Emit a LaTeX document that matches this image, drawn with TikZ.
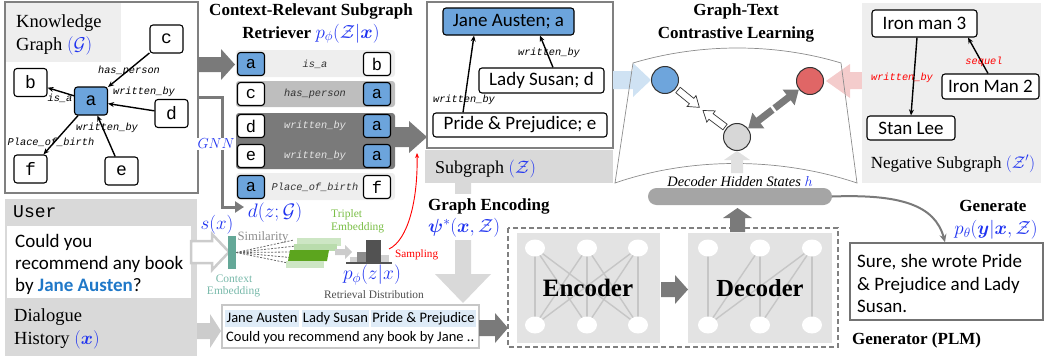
\RequirePackage{fix-cm}
\documentclass[tikz,border=0pt]{standalone}
\usepackage{amsmath}
\usepackage{bm}
\usepackage{fontspec}
\setmainfont{Liberation Serif}
\setmonofont{Liberation Mono}
\newfontfamily\calib{Carlito}
\usetikzlibrary{arrows.meta,calc}
\newcommand\fsz[1]{\fontsize{#1}{#1}\selectfont}
\definecolor{nblue}{RGB}{108,164,220}
\definecolor{mblue}{RGB}{30,50,240}
\definecolor{bgray}{RGB}{128,128,128}
\definecolor{lbg}{RGB}{238,238,238}
\definecolor{mbg}{RGB}{217,217,217}
\definecolor{rowmid}{RGB}{190,190,190}
\definecolor{dgray}{RGB}{122,122,122}
\definecolor{teal1}{RGB}{100,168,152}
\definecolor{tealtxt}{RGB}{120,185,170}
\definecolor{gdark}{RGB}{92,165,30}
\definecolor{glight}{RGB}{205,230,196}
\definecolor{glight2}{RGB}{185,220,172}
\definecolor{gtxt}{RGB}{122,190,70}
\definecolor{hl}{RGB}{222,235,247}
\definecolor{ablue}{RGB}{207,226,243}
\definecolor{ared}{RGB}{244,204,204}
\definecolor{cblue}{RGB}{110,165,220}
\definecolor{cred}{RGB}{224,102,102}
\definecolor{cgray}{RGB}{215,215,215}
\definecolor{ublue}{RGB}{31,120,200}
\definecolor{encbg}{RGB}{227,227,227}
\definecolor{eline}{RGB}{198,198,198}
\definecolor{hbgray}{RGB}{165,165,165}
\tikzset{
 txt/.style={anchor=base west, inner sep=0pt},
 ctxt/.style={anchor=base, inner sep=0pt},
 kn/.style={draw, rounded corners=3pt, line width=1.1pt, fill=white, inner sep=0pt,
   minimum width=33pt, minimum height=28pt, font=\ttfamily\fsz{18}},
 tn/.style={kn, minimum width=27pt, minimum height=23pt, font=\ttfamily\fsz{17}},
 sn/.style={draw, rounded corners=3pt, line width=1.1pt, fill=white, inner sep=0pt,
   font=\calib\fsz{19}},
 elab/.style={font=\ttfamily\itshape\fsz{10.3}, inner sep=0.5pt},
 kedge/.style={line width=1.4pt, -{Stealth[length=6pt,width=5pt]}},
 ttl/.style={anchor=base, inner sep=0pt, font=\bfseries\fsz{17}},
 eedge/.style={draw=eline, line width=1.4pt},
 dbl/.style={draw=dgray, line width=7pt, -{Triangle[length=13pt,width=19pt]}},
 warr/.style={draw=black!80, line width=0.7pt, fill=white},
 hlbox/.style={fill=hl, inner sep=0pt, minimum height=17pt, text height=10.5pt, text depth=2.5pt, font=\calib\fsz{14.5}},
}
\begin{document}
\begin{tikzpicture}[x=1pt,y=-1pt]
\useasboundingbox (0,0) rectangle (1045,356);

%% ================= Knowledge graph
\node[draw=bgray, line width=2pt, fill=white, minimum width=193pt, minimum height=191pt, inner sep=0pt] (kg) at (101.5,97.5) {};
\fill[lbg] (6,3) rectangle (121,62);
\node[txt, font=\fsz{18.5}] (kg1) at (16,27.3) {Knowledge};
\node[txt, font=\fsz{18.5}] (kg2) at (16,50.7) {Graph {\color{mblue}$(\mathcal{G})$}};
\node[kn] (c) at (166.5,39) {c};
\node[kn] (b) at (30.5,82.5) {b};
\node[kn, fill=nblue] (a) at (91,101) {a};
\node[kn] (d) at (171.5,113.5) {d};
\node[kn] (f) at (30.5,169) {f};
\node[kn] (e) at (121.5,171) {e};
\draw[kedge] (c) -- (a);
\draw[kedge] (a) -- (b);
\draw[kedge] (d) -- (a);
\draw[kedge] (e) -- (a);
\draw[kedge] (a) -- (f);
\node[elab] (lhp) at (129,71) {has\_person};
\node[elab] (lisa) at (60,98) {is\_a};
\node[elab] (lwb1) at (144,92) {written\_by};
\node[elab] (lwb2) at (107,128) {written\_by};
\node[elab] (lpob) at (51,142) {Place\_of\_birth};

%% arrow KG -> triplets
\fill[dgray] (198,57) -- (221,57) -- (221,49) -- (235,64.5) -- (221,80) -- (221,72) -- (198,72) -- cycle;

%% GNN connector
\coordinate (gnnend) at (244,207);
\draw[draw=dgray, line width=3pt, -{Triangle[length=9pt,width=11pt]}] (kg.east) -- (222,97.5) -- (222,207) -- (gnnend);
\node[fill=white, inner sep=1pt, font=\fsz{14.5}, text=mblue] (gnn) at (216,144) {$GNN$};

%% ================= Retriever
\node[ttl] (t1) at (311,16) {Context-Relevant Subgraph};
\node[ttl] (t2) at (311,38) {Retriever {\color{mblue}\fsz{19}$p_{\phi}(\mathcal{Z}|\bm{x})$}};

\fill[lbg, rounded corners=3pt] (236,50) rectangle (395,77);
\fill[rowmid, rounded corners=3pt] (236,81) rectangle (395,107);
\fill[dgray, rounded corners=3pt] (236,113) rectangle (395,169);
\fill[lbg, rounded corners=3pt] (236,173) rectangle (395,200);
\fill[dgray] (393,127) -- (409,127) -- (409,121) -- (427,137) -- (409,153) -- (409,147) -- (393,147) -- cycle;

\node[tn, fill=nblue] (r1a) at (251,64) {a};
\node[tn] (r1b) at (377,64) {b};
\node[elab, text=black!80] (r1l) at (315,64) {is\_a};
\node[tn] (r2c) at (251,94) {c};
\node[tn, fill=nblue] (r2a) at (377,94) {a};
\node[elab, text=black!80] (r2l) at (315,94) {has\_person};
\node[tn] (r3d) at (251,126) {d};
\node[tn, fill=nblue] (r3a) at (377,126) {a};
\node[elab, text=black!10] (r3l) at (315,126) {written\_by};
\node[tn] (r4e) at (251,156) {e};
\node[tn, fill=nblue] (r4a) at (377,156) {a};
\node[elab, text=black!10] (r4l) at (315,156) {written\_by};
\node[tn, fill=nblue] (r5a) at (251,187) {a};
\node[tn] (r5f) at (377,187) {f};
\node[elab, text=black!80] (r5l) at (315,187) {Place\_of\_birth};

\node[font=\fsz{19.5}, text=mblue, inner sep=0pt] (dzg) at (275,213) {$d(z;\mathcal{G})$};

%% ================= User / dialogue
\fill[mbg] (5,199) rectangle (197,356);
\node[txt, font=\ttfamily\fsz{18}] (user) at (13,217) {User};
\node[fill=white, minimum width=184pt, minimum height=72pt, inner sep=0pt] (ubox) at (99,262) {};
\node[txt, font=\calib\fsz{19}] (u1) at (15,247) {Could you};
\node[txt, font=\calib\fsz{19}] (u2) at (15,269) {recommend any book};
\node[txt, font=\calib\fsz{19}] (u3) at (15,291) {by {\bfseries\color{ublue}Jane Austen}?};
\node[txt, font=\fsz{18.5}] (dh1) at (14,321) {Dialogue};
\node[txt, font=\fsz{18.5}] (dh2) at (14,344) {History {\color{mblue}$(\bm{x})$}};

%% outline arrow user -> context embedding
\draw[draw=black!20, line width=2.5pt, fill=white, line join=miter] (191,241) -- (212,241) -- (212,234) -- (229,252) -- (212,270) -- (212,263) -- (191,263) -- cycle;
%% filled arrow dialogue -> concat
\fill[black!20] (197,323) -- (210,323) -- (210,314) -- (221,331) -- (210,348) -- (210,339) -- (197,339) -- cycle;

%% context embedding
\node[fill=teal1, minimum width=8pt, minimum height=33pt, inner sep=0pt] (ce) at (232,252.5) {};
\node[font=\fsz{19}, text=mblue, inner sep=0pt] (sx) at (217,225) {$s(x)$};
\node[ctxt, font=\fsz{11.5}, text=tealtxt] (ce1) at (234,282) {Context};
\node[ctxt, font=\fsz{11.5}, text=tealtxt] (ce2) at (233.5,294) {Embedding};
\node[ctxt, font=\fsz{12.7}, text=black!45] (sim) at (263,240) {Similarity};
\foreach \p in {(294,240),(296,246),(292,252),(290,257.5),(288,263)}
  \draw[black!60, line width=0.8pt, dash pattern=on 2pt off 1.5pt] (ce.east) -- \p;

%% triplet embedding
\fill[glight] (297,238) rectangle (341,246);
\fill[glight2] (294,244) rectangle (337,251);
\fill[gdark] (290,250) -- (329,250) -- (327,261) -- (288,261) -- cycle;
\fill[glight] (286,261) rectangle (324,268);
\node[txt, font=\fsz{11.5}, text=gtxt] (te1) at (331,217) {Triplet};
\node[txt, font=\fsz{11.5}, text=gtxt] (te2) at (331,230) {Embedding};
\fill[black!20] (335,249) -- (345,249) -- (345,245) -- (352,252) -- (345,259) -- (345,255) -- (335,255) -- cycle;

%% histogram
\fill[black!18] (350,257) rectangle (357,262);
\fill[black!45] (357,252) rectangle (366,262);
\fill[black!68] (366,240) rectangle (381,262);
\fill[black!18] (381,255) rectangle (389,262);
\fill[black!68] (346,261.5) rectangle (392,263.5);
\node[font=\fsz{19.5}, text=mblue, inner sep=0pt] (pz) at (372,275) {$p_{\phi}(z|x)$};
\node[ctxt, font=\fsz{11.4}, text=black!70] (rd) at (374,298) {Retrieval Distribution};
\node[txt, font=\fsz{11.2}, text=red] (samp) at (395,257) {Sampling};
\coordinate (hist) at (389,249);
\coordinate (samptip) at (417,153);
\draw[red, line width=0.9pt, -{Stealth[length=5pt,width=4pt]}] (hist) .. controls (408,240) and (418,200) .. (samptip);

%% ================= Subgraph
\node[draw=bgray, line width=2pt, fill=white, minimum width=186pt, minimum height=146pt, inner sep=0pt] (sg) at (520,75) {};
\node[sn, fill=nblue, minimum width=131pt, minimum height=27pt] (ja) at (508.5,21.5) {Jane Austen; a};
\node[sn, minimum width=125pt, minimum height=25pt] (ls) at (541.5,80.5) {Lady Susan; d};
\node[sn, minimum width=174pt, minimum height=24pt] (pp) at (520,125) {Pride \& Prejudice; e};
\draw[kedge] ([xshift=11.5pt]ls.north) -- ([xshift=31.5pt]ja.south);
\draw[kedge] ([xshift=-57pt]pp.north) -- ([xshift=-34.5pt]ja.south);
\node[elab] (swb1) at (549,53) {written\_by};
\node[elab] (swb2) at (464,100) {written\_by};
\fill[mbg] (425,150) rectangle (613,183);
\node[txt, font=\fsz{18}] (sgl) at (435,173) {Subgraph {\color{mblue}$(\mathcal{Z})$}};

%% light gray down arrow (hidden behind the Graph Encoding labels)
\fill[mbg] (455,183) -- (471,183) -- (471,274) -- (491,274) -- (463,303) -- (435,274) -- (455,274) -- cycle;
\fill[white] (427,194) rectangle (500,240);
\node[txt, font=\bfseries\fsz{17}] (ge1) at (428,210) {Graph Encoding};
\node[anchor=west, inner sep=0pt, text=mblue, font=\fsz{19}] (ge2) at (428,228) {$\bm{\psi}^*(\bm{x},\mathcal{Z})$};

%% concatenated input
\node[draw=black!22, line width=2pt, fill=white, minimum width=257pt, minimum height=43pt, inner sep=0pt] (cat) at (350.5,326.5) {};
\node[hlbox, minimum width=74pt] (h1) at (262,318.5) {Jane Austen};
\node[hlbox, minimum width=67pt] (h2) at (335.5,318.5) {Lady Susan};
\node[hlbox, minimum width=105pt] (h3) at (423.5,318.5) {Pride \& Prejudice};
\node[txt, font=\calib\fsz{14.5}] (cl2) at (226,341) {Could you recommend any book by Jane ..};

%% ================= Encoder / Decoder
\draw[draw=bgray, line width=2pt, dash pattern=on 5pt off 3pt] (508,228) rectangle (838,347);
\node[fill=encbg, minimum width=143pt, minimum height=110pt, inner sep=0pt] (encp) at (588.5,288) {};
\node[fill=encbg, minimum width=144pt, minimum height=110pt, inner sep=0pt] (decp) at (760,288) {};
\foreach \i in {535,587,638} \foreach \j in {535,587,638} \draw[eedge] (\i,248) -- (\j,325);
\foreach \i/\j in {708/708,760/708,760/760,812/708,812/760,812/812} \draw[eedge] (\i,248) -- (\j,325);
\foreach \x in {535,587,638,708,760,812} {\fill[white] (\x,248) ellipse (10 and 8.5); \fill[white] (\x,325) ellipse (10 and 8.5);}
\node[ctxt, font=\bfseries\fsz{25}] (enc) at (588,296) {Encoder};
\node[ctxt, font=\bfseries\fsz{24.5}] (dec) at (760,296) {Decoder};
\fill[dgray] (661,282) -- (675,282) -- (675,275) -- (688,289.5) -- (675,304) -- (675,297) -- (661,297) -- cycle;
\fill[dgray] (479,320) -- (495,320) -- (495,313) -- (508,328) -- (495,343) -- (495,336) -- (479,336) -- cycle;
\fill[dgray] (730,232) -- (730,218) -- (723,218) -- (737.5,208) -- (752,218) -- (745,218) -- (745,232) -- cycle;

%% hidden states bar
\node[fill=hbgray, rounded corners=8.5pt, minimum width=184pt, minimum height=17pt, inner sep=0pt] (hb) at (740,196.5) {};
\node[ctxt, font=\itshape\fsz{14.4}] (dhs) at (740,186) {Decoder Hidden States {\color{mblue}$h$}};

%% ================= Contrastive learning
\node[ttl] (t3) at (736,16) {Graph-Text};
\node[ttl] (t4) at (736,38.5) {Contrastive Learning};
\fill[ablue] (613,71) -- (633,71) -- (633,63) -- (651,80) -- (633,97) -- (633,89) -- (613,89) -- cycle;
\fill[ared] (866,72) -- (850,72) -- (850,64) -- (826,81) -- (850,98) -- (850,89) -- (866,89) -- cycle;
\draw[black!45, line width=0.7pt] (633,63) .. controls (700,43) and (775,43) .. (841,63) -- (857,183) .. controls (780,157) and (690,157) .. (615,183) -- cycle;
\fill[cgray!75] (731,173) -- (731,160) -- (724,160) -- (737,151) -- (750,160) -- (743,160) -- (743,173) -- cycle;
\node[circle, draw=black!80, line width=1pt, fill=cblue, minimum size=27pt, inner sep=0pt] (bc) at (665,80) {};
\node[circle, draw=black!80, line width=1pt, fill=cred, minimum size=27pt, inner sep=0pt] (rc) at (810,81) {};
\node[circle, draw=black!80, line width=1pt, fill=cgray, minimum size=27pt, inner sep=0pt] (gc) at (737,137) {};
\draw[dbl] ($(gc)!0.515!(rc)$) -- (rc);
\draw[dbl] ($(gc)!0.485!(rc)$) -- (gc);
\begin{scope}[shift={(678,90)}, rotate=-39.1]
 \draw[warr] (0,-3.5) -- (17.5,-3.5) -- (17.5,-7) -- (27.5,0) -- (17.5,7) -- (17.5,3.5) -- (0,3.5) -- cycle;
\end{scope}
\begin{scope}[shift={(725,127)}, rotate=143.1]
 \draw[warr] (0,-3.5) -- (17.5,-3.5) -- (17.5,-7) -- (27.5,0) -- (17.5,7) -- (17.5,3.5) -- (0,3.5) -- cycle;
\end{scope}

%% ================= Negative subgraph
\fill[lbg] (862,3) rectangle (1041,183);
\node[sn, minimum width=105pt, minimum height=27pt] (im3) at (924.5,23.5) {Iron man 3};
\node[sn, minimum width=97pt, minimum height=25pt] (im2) at (990.5,86.5) {Iron Man 2};
\node[sn, minimum width=88pt, minimum height=24pt] (sl) at (911,128) {Stan Lee};
\draw[kedge] ([xshift=-7.5pt]im3.south) -- (sl.north);
\draw[kedge] ([xshift=-2.5pt]im2.north) -- ([xshift=43.5pt]im3.south);
\node[elab, text=red] (nwb) at (902,78) {written\_by};
\node[elab, text=red] (nsq) at (984,62) {sequel};
\node[ctxt, font=\fsz{17}] (neg) at (953,168) {Negative Subgraph {\color{mblue}$(\mathcal{Z}')$}};

%% ================= Generate
\node[ctxt, font=\bfseries\fsz{17}] (gen) at (993,211) {Generate};
\node[font=\fsz{19}, text=mblue, inner sep=0pt] (pth) at (996,230) {$p_{\theta}(\bm{y}|\bm{x},\mathcal{Z})$};
\node[draw=black!55, line width=1.5pt, fill=white, minimum width=193pt, minimum height=77pt, inner sep=0pt] (resp) at (946.5,281.5) {};
\node[txt, font=\calib\fsz{19}] (rs1) at (857,267) {Sure, she wrote Pride};
\node[txt, font=\calib\fsz{19}] (rs2) at (857,290) {\& Prejudice and Lady};
\node[txt, font=\calib\fsz{19}] (rs3) at (857,312) {Susan.};
\node[txt, font=\bfseries\fsz{17}] (plm) at (852,344) {Generator (PLM)};
\draw[draw=dgray, line width=2pt, -{Stealth[length=8pt,width=7pt]}] (hb.east) .. controls (900,194) and (935,205) .. ([xshift=-1.5pt]resp.north);
\end{tikzpicture}
\end{document}
